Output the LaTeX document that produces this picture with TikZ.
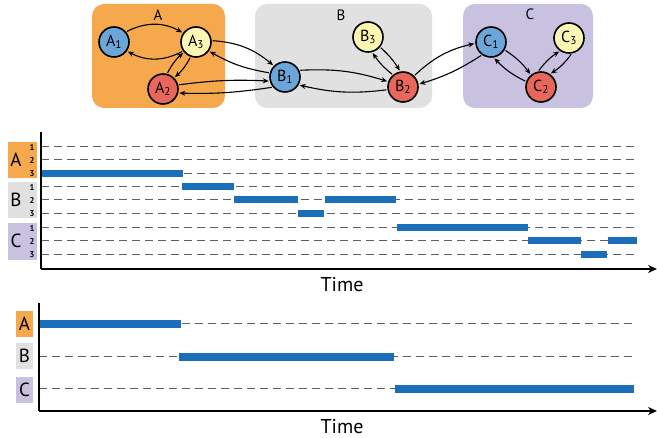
\documentclass[tikz,border=0pt]{standalone}
\usepackage{fontspec}
\setmainfont{PT Sans}
\usetikzlibrary{arrows.meta}
\definecolor{oran}{RGB}{246,168,76}
\definecolor{lgrey}{RGB}{225,225,225}
\definecolor{lav}{RGB}{200,193,223}
\definecolor{nblue}{RGB}{108,166,216}
\definecolor{nyel}{RGB}{251,247,178}
\definecolor{nred}{RGB}{232,102,92}
\definecolor{barblue}{RGB}{27,110,185}
\definecolor{dashgr}{RGB}{95,95,95}
\tikzset{
  grp/.style={rounded corners=12pt, draw=none},
  st/.style={circle, draw=black, line width=1.6pt, minimum size=30pt, inner sep=0pt, font=\fontsize{16}{16}\selectfont},
  lk/.style={-{Stealth[length=6pt,width=5pt]}, line width=1.1pt, shorten >=1pt, shorten <=1pt},
  dl/.style={dash pattern=on 8pt off 5pt, dashgr, line width=1pt},
  barst/.style={line width=7pt, barblue},
  axis/.style={line width=1.4pt, black},
  axarrow/.style={line width=1.4pt, black, -{Stealth[length=9pt,width=8pt]}},
  glab/.style={font=\fontsize{15}{15}\selectfont},
  rowlab/.style={font=\fontsize{19}{19}\selectfont},
  numlab/.style={font=\fontsize{8.5}{8.5}\selectfont\bfseries},
  timelab/.style={font=\fontsize{20}{20}\selectfont}
}
\begin{document}
\begin{tikzpicture}[x=1pt,y=-1pt]
\useasboundingbox (0,0) rectangle (657,438);
% group boxes
\fill[oran,grp] (92,4) rectangle (225,108);
\fill[lgrey,grp] (255,4) rectangle (432,108);
\fill[lav,grp] (463,4) rectangle (593,108);
\node[glab] (gA) at (158,15) {A};
\node[glab] (gB) at (341,15) {B};
\node[glab] (gC) at (530,14) {C};
% states
\node[st, fill=nblue] (A1) at (114,42) {A\textsubscript{1}};
\node[st, fill=nyel]  (A3) at (196,42) {A\textsubscript{3}};
\node[st, fill=nred]  (A2) at (163,89) {A\textsubscript{2}};
\node[st, fill=nblue] (B1) at (285,77) {B\textsubscript{1}};
\node[st, fill=nyel]  (B3) at (368,37) {B\textsubscript{3}};
\node[st, fill=nred]  (B2) at (403,87) {B\textsubscript{2}};
\node[st, fill=nblue] (C1) at (491,42) {C\textsubscript{1}};
\node[st, fill=nyel]  (C3) at (569,38) {C\textsubscript{3}};
\node[st, fill=nred]  (C2) at (541,87) {C\textsubscript{2}};
% transitions
\draw[lk] (A1.40) to[bend left=28] (A3.145);
\draw[lk] (A3.215) to[bend left=28] (A1.-35);
\draw[lk] (A2.75) to[bend left=10] (A3.220);
\draw[lk] (A3.250) to[bend left=10] (A2.45);
\draw[lk] (A3.5) to[bend left=18] (B1.135);
\draw[lk] (B1.165) to[bend left=10] (A3.-35);
\draw[lk] (A2.15) to[bend left=5] (B1.195);
\draw[lk] (B1.220) to[bend left=5] (A2.-15);
\draw[lk] (B1.25) to[bend left=10] (B2.160);
\draw[lk] (B2.190) to[bend left=10] (B1.-30);
\draw[lk] (B3.-40) to[bend left=8] (B2.100);
\draw[lk] (B2.130) to[bend left=8] (B3.-75);
\draw[lk] (B2.45) to[bend left=15] (C1.185);
\draw[lk] (C1.235) to[bend left=8] (B2.10);
\draw[lk] (C1.-30) to[bend left=10] (C2.130);
\draw[lk] (C2.160) to[bend left=10] (C1.-80);
\draw[lk] (C2.100) to[bend left=10] (C3.235);
\draw[lk] (C3.-80) to[bend left=10] (C2.55);
% ---------- timeline 1 ----------
\fill[oran] (8,142) rectangle (37,178);
\fill[lgrey] (8,182) rectangle (37,218);
\fill[lav] (8,223) rectangle (37,260);
\node[rowlab] (tA) at (16,160) {A};
\node[rowlab] (tB) at (16,200) {B};
\node[rowlab] (tC) at (16,241) {C};
\foreach \y/\n [count=\i] in {147/1,160/2,174/3,187/1,200/2,214/3,228/1,241/2,255/3} {
  \node[numlab] (n\i) at (32,\y) {\n};
  \coordinate (ds\i) at (41,\y);
  \coordinate (de\i) at (637,\y);
  \draw[dl] (ds\i) -- (de\i);
}
% bars
\draw[barst] (41,174) -- (183,174);
\draw[barst] (182,187) -- (234,187);
\draw[barst] (234,200) -- (298,200);
\draw[barst] (325,200) -- (396,200);
\draw[barst] (298,214) -- (324,214);
\draw[barst] (397,228) -- (528,228);
\draw[barst] (528,241) -- (581,241);
\draw[barst] (608,241) -- (637,241);
\draw[barst] (581,255) -- (607,255);
\coordinate (o1) at (41,269);
\coordinate (t1) at (41,132);
\coordinate (x1) at (657,269);
\draw[axis] (t1) -- (o1);
\draw[axarrow] (o1) -- (x1);
\node[timelab] (time1) at (342,285) {Time};
% ---------- timeline 2 ----------
\fill[oran] (16,311) rectangle (33,337);
\fill[lgrey] (16,343) rectangle (33,369);
\fill[lav] (16,377) rectangle (33,403);
\node[rowlab] (sA) at (24.5,324) {A};
\node[rowlab] (sB) at (24.5,356) {B};
\node[rowlab] (sC) at (24.5,390) {C};
\foreach \y [count=\i] in {324,357,389} {
  \coordinate (es\i) at (39,\y);
  \coordinate (ee\i) at (634,\y);
  \draw[dl] (es\i) -- (ee\i);
}
\draw[barst, line width=8pt] (39,324) -- (181,324);
\draw[barst, line width=8pt] (179,357) -- (394,357);
\draw[barst, line width=8pt] (395,389) -- (634,389);
\coordinate (o2) at (39,411);
\coordinate (t2) at (39,303);
\coordinate (x2) at (657,411);
\draw[axis] (t2) -- (o2);
\draw[axarrow] (o2) -- (x2);
\node[timelab] (time2) at (342,427) {Time};
\end{tikzpicture}
\end{document}
